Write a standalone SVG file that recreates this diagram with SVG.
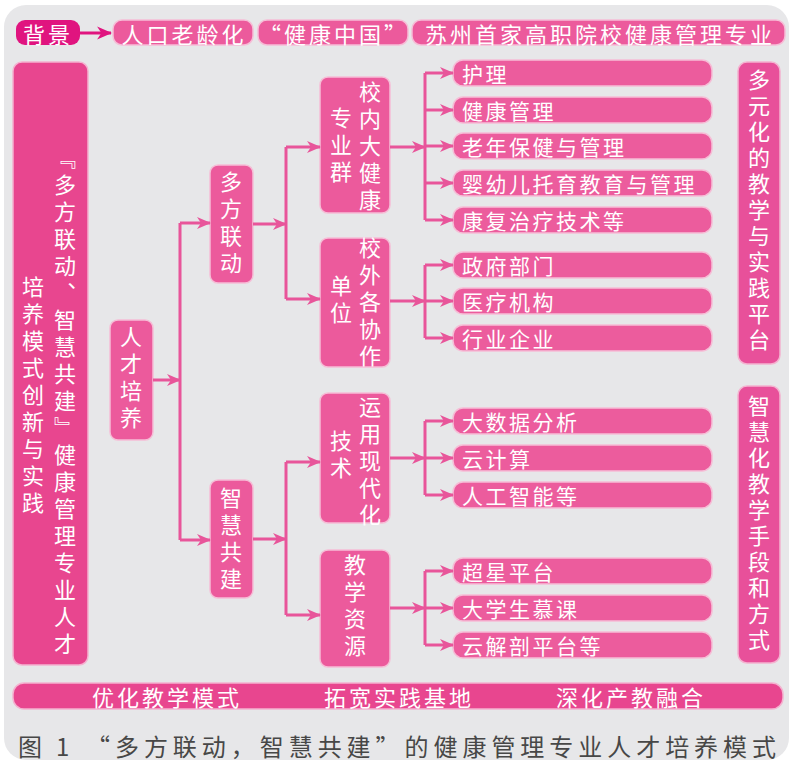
<svg xmlns="http://www.w3.org/2000/svg" width="800" height="770" viewBox="0 0 800 770">
<defs>
<style>
.bx{fill:#ec5a9c;stroke:#f6bdd6;stroke-width:1.5}
.lf{fill:#ec5c9d;stroke:#f6bdd6;stroke-width:1.5}
.big{fill:#e8468f;stroke:#f4b3d0;stroke-width:1.5}
.t{font-family:"Noto Sans CJK SC","Noto Sans",sans-serif;fill:#ffffff;font-size:22px;dominant-baseline:central}
.v{writing-mode:vertical-rl;text-anchor:middle;letter-spacing:5px}
.h{letter-spacing:3px}
.lt{font-size:21px;letter-spacing:2.5px}
.ln{fill:none;stroke:#e8559a;stroke-width:3}
.ar{fill:none;stroke:#e8559a;stroke-width:3;marker-end:url(#ah)}
.cap{font-family:"Noto Sans CJK SC",sans-serif;font-size:24px;fill:#474747;dominant-baseline:central}
</style>
<marker id="ah" viewBox="0 0 14 14" refX="13" refY="7" markerWidth="14" markerHeight="14" markerUnits="userSpaceOnUse" orient="auto">
<path d="M0,1 L14,7 L0,13 L4,7 z" fill="#e8559a"/>
</marker>
<marker id="ah2" viewBox="0 0 14 14" refX="13" refY="7" markerWidth="15" markerHeight="15" markerUnits="userSpaceOnUse" orient="auto">
<path d="M0,1 L14,7 L0,13 L4,7 z" fill="#e0147f"/>
</marker>
</defs>
<rect x="0" y="0" width="800" height="770" fill="#ffffff"/>
<rect x="4" y="5" width="785" height="755" rx="22" fill="#e7e7e9"/>

<g id="top">
<rect x="16" y="20" width="64" height="25" rx="9" fill="#e0147f"/>
<text class="t h" x="48" y="33" text-anchor="middle">背景</text>
<rect class="bx" x="113" y="20" width="140" height="25" rx="9"/>
<text class="t h" x="184" y="33" text-anchor="middle">人口老龄化</text>
<rect class="bx" x="258" y="20" width="150" height="25" rx="9"/>
<text class="t h" x="334" y="33" text-anchor="middle">“健康中国”</text>
<rect class="bx" x="412" y="20" width="373" height="25" rx="9"/>
<text class="t h" x="600" y="33" text-anchor="middle">苏州首家高职院校健康管理专业</text>
</g>

<g id="main">
<rect class="big" x="13" y="62" width="75" height="603" rx="9"/>
<text class="t v" x="65" y="403">『多方联动、智慧共建』健康管理专业人才</text>
<text class="t v" x="33" y="397">培养模式创新与实践</text>
</g>

<g id="rencai">
<rect class="bx" x="110" y="320" width="43" height="120" rx="8"/>
<text class="t v" x="131" y="380">人才培养</text>
</g>
<g id="duofang">
<rect class="bx" x="210" y="165" width="43" height="118" rx="8"/>
<text class="t v" x="231" y="225">多方联动</text>
</g>
<g id="zhihui">
<rect class="bx" x="210" y="480" width="43" height="118" rx="8"/>
<text class="t v" x="231" y="541">智慧共建</text>
</g>

<g id="xiaonei">
<rect class="bx" x="320" y="77" width="70" height="136" rx="8"/>
<text class="t v" x="370" y="148">校内大健康</text>
<text class="t v" x="341" y="147">专业群</text>
</g>
<g id="xiaowai">
<rect class="bx" x="320" y="238" width="70" height="129" rx="8"/>
<text class="t v" x="370" y="304">校外各协作</text>
<text class="t v" x="341" y="302">单位</text>
</g>
<g id="jishu">
<rect class="bx" x="320" y="393" width="70" height="130" rx="8"/>
<text class="t v" x="370" y="463">运用现代化</text>
<text class="t v" x="341" y="457">技术</text>
</g>
<g id="ziyuan">
<rect class="bx" x="320" y="550" width="70" height="117" rx="8"/>
<text class="t v" x="355" y="608">教学资源</text>
</g>

<g id="leaves">
<rect class="lf" x="453" y="60" width="259" height="26" rx="10"/><text class="t lt" x="462" y="73">护理</text>
<rect class="lf" x="453" y="97" width="259" height="26" rx="10"/><text class="t lt" x="462" y="110">健康管理</text>
<rect class="lf" x="453" y="133" width="259" height="26" rx="10"/><text class="t lt" x="462" y="146">老年保健与管理</text>
<rect class="lf" x="453" y="170" width="259" height="26" rx="10"/><text class="t lt" x="462" y="183">婴幼儿托育教育与管理</text>
<rect class="lf" x="453" y="207" width="259" height="26" rx="10"/><text class="t lt" x="462" y="220">康复治疗技术等</text>
<rect class="lf" x="453" y="252" width="259" height="26" rx="10"/><text class="t lt" x="462" y="265">政府部门</text>
<rect class="lf" x="453" y="288" width="259" height="26" rx="10"/><text class="t lt" x="462" y="301">医疗机构</text>
<rect class="lf" x="453" y="325" width="259" height="26" rx="10"/><text class="t lt" x="462" y="338">行业企业</text>
<rect class="lf" x="453" y="408" width="259" height="26" rx="10"/><text class="t lt" x="462" y="421">大数据分析</text>
<rect class="lf" x="453" y="445" width="259" height="26" rx="10"/><text class="t lt" x="462" y="458">云计算</text>
<rect class="lf" x="453" y="482" width="259" height="26" rx="10"/><text class="t lt" x="462" y="495">人工智能等</text>
<rect class="lf" x="453" y="558" width="259" height="26" rx="10"/><text class="t lt" x="462" y="571">超星平台</text>
<rect class="lf" x="453" y="595" width="259" height="26" rx="10"/><text class="t lt" x="462" y="608">大学生慕课</text>
<rect class="lf" x="453" y="632" width="259" height="26" rx="10"/><text class="t lt" x="462" y="645">云解剖平台等</text>
</g>

<g id="right">
<rect class="big" x="738" y="62" width="42" height="302" rx="9" style="fill:#e8509a"/>
<text class="t v" x="759" y="212" style="letter-spacing:4px">多元化的教学与实践平台</text>
<rect class="big" x="738" y="386" width="42" height="277" rx="9" style="fill:#e8509a"/>
<text class="t v" x="759" y="525" style="letter-spacing:4px">智慧化教学手段和方式</text>
</g>

<g id="bottom">
<rect class="big" x="13" y="683" width="770" height="26" rx="11"/>
<text class="t h" x="167" y="696" text-anchor="middle">优化教学模式</text>
<text class="t h" x="399" y="696" text-anchor="middle">拓宽实践基地</text>
<text class="t h" x="631" y="696" text-anchor="middle">深化产教融合</text>
</g>

<g id="connectors">
<path d="M80,33 H111" fill="none" stroke="#e0147f" stroke-width="3" marker-end="url(#ah2)"/>
<path class="ar" d="M153,380 H180"/>
<path class="ln" d="M180,223 V540"/>
<path class="ar" d="M180,223 H210"/>
<path class="ar" d="M180,540 H210"/>

<path class="ar" d="M253,224 H286"/>
<path class="ln" d="M286,147 V299"/>
<path class="ar" d="M286,147 H320"/>
<path class="ar" d="M286,299 H320"/>

<path class="ar" d="M253,539 H286"/>
<path class="ln" d="M286,462 V615"/>
<path class="ar" d="M286,462 H320"/>
<path class="ar" d="M286,615 H320"/>

<path class="ar" d="M390,147 H425"/>
<path class="ln" d="M425,73 V220"/>
<path class="ar" d="M425,73 H453"/>
<path class="ar" d="M425,110 H453"/>
<path class="ar" d="M425,146 H453"/>
<path class="ar" d="M425,183 H453"/>
<path class="ar" d="M425,220 H453"/>

<path class="ar" d="M390,301 H425"/>
<path class="ln" d="M425,265 V338"/>
<path class="ar" d="M425,265 H453"/>
<path class="ar" d="M425,301 H453"/>
<path class="ar" d="M425,338 H453"/>

<path class="ar" d="M390,458 H425"/>
<path class="ln" d="M425,421 V495"/>
<path class="ar" d="M425,421 H453"/>
<path class="ar" d="M425,458 H453"/>
<path class="ar" d="M425,495 H453"/>

<path class="ar" d="M390,608 H425"/>
<path class="ln" d="M425,571 V645"/>
<path class="ar" d="M425,571 H453"/>
<path class="ar" d="M425,608 H453"/>
<path class="ar" d="M425,645 H453"/>
</g>

<text class="cap" y="745"><tspan x="18">图</tspan><tspan x="56">1</tspan><tspan x="86" textLength="690" lengthAdjust="spacing">“多方联动，智慧共建”的健康管理专业人才培养模式</tspan></text>
</svg>
